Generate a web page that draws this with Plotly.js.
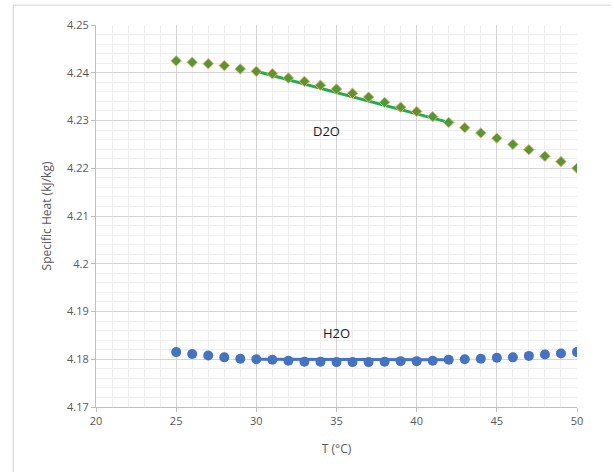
<!DOCTYPE html>
<html>
<head>
<meta charset="utf-8">
<script src="https://cdn.plot.ly/plotly-3.0.1.min.js"></script>
<style>
html,body{margin:0;padding:0;background:#fff;}
#chart{width:614px;height:472px;}
</style>
</head>
<body>
<div id="chart"></div>
<script>
// Temperature (°C)
const temps = [25,26,27,28,29,30,31,32,33,34,35,36,37,38,39,40,41,42,43,44,45,46,47,48,49,50];
// Specific heat of D2O (kJ/kg)
const d2o = [4.2425,4.2422,4.2419,4.2415,4.2408,4.2403,4.2398,4.2389,4.2382,4.2374,4.2366,4.2357,4.2349,4.2338,4.2328,4.2319,4.2308,4.2296,4.2285,4.2274,4.2263,4.2250,4.2239,4.2225,4.2214,4.2200];
// Specific heat of H2O (kJ/kg)
const h2o = [4.1815,4.1811,4.1808,4.1804,4.1801,4.1800,4.1799,4.1797,4.1795,4.1795,4.1794,4.1794,4.1794,4.1795,4.1796,4.1796,4.1797,4.1799,4.1800,4.1801,4.1803,4.1804,4.1807,4.1810,4.1812,4.1815];
// Trend line segments (30–42 °C)
const trendX = [30,42];
const d2oTrend = [4.2403,4.2296];
const h2oTrend = [4.1800,4.1799];
// Labels
const labels = ["D2O","H2O"];
const labelX = [34.4,35.0];
const labelY = [4.2279,4.1854];

const traces = [
  {x: trendX, y: d2oTrend, mode:'lines', line:{color:'#1db04a', width:3}, hoverinfo:'skip'},
  {x: trendX, y: h2oTrend, mode:'lines', line:{color:'#4472c4', width:3}, hoverinfo:'skip'},
  {x: temps, y: d2o, mode:'markers', name:'D2O',
   marker:{symbol:'diamond', size:8, color:'#4f9a34', line:{color:'#f2a868', width:1}}},
  {x: temps, y: h2o, mode:'markers', name:'H2O',
   marker:{symbol:'circle', size:10, color:'#4472c4', line:{width:0}}}
];

const layout = {
  width:614, height:472,
  margin:{l:96, r:37, t:25, b:65},
  paper_bgcolor:'#fff', plot_bgcolor:'#fff',
  showlegend:false,
  font:{family:'Open Sans, Liberation Sans, sans-serif', color:'#595959', size:11},
  xaxis:{
    range:[20,50], dtick:5, tick0:20,
    showgrid:true, gridcolor:'#d4d4d4', gridwidth:1,
    minor:{dtick:1, showgrid:true, gridcolor:'#eeeeee', gridwidth:1},
    showline:true, linecolor:'#bfbfbf', linewidth:1,
    ticks:'outside', ticklen:4, tickcolor:'#bfbfbf',
    zeroline:false,
    tickfont:{size:11, color:'#595959'},
    title:{text:'T (°C)', font:{size:12, color:'#595959'}, standoff:17}
  },
  yaxis:{
    range:[4.17,4.25], dtick:0.01, tick0:4.17,
    showgrid:true, gridcolor:'#d4d4d4', gridwidth:1,
    minor:{dtick:0.002, showgrid:true, gridcolor:'#eeeeee', gridwidth:1},
    showline:true, linecolor:'#bfbfbf', linewidth:1,
    ticks:'outside', ticklen:4, tickcolor:'#bfbfbf',
    zeroline:false,
    tickfont:{size:11, color:'#595959'},
    title:{text:'Specific Heat (kJ/kg)', font:{size:12, color:'#595959'}, standoff:12}
  },
  annotations: labels.map((t,i)=>({x:labelX[i], y:labelY[i], xref:'x', yref:'y', text:t, showarrow:false,
    font:{size:13, color:'#1a1a1a', family:'Open Sans, Liberation Sans, sans-serif'}})),
  shapes:[
    {type:'line', xref:'paper', yref:'paper', x0:-0.172, x1:-0.172, y0:1.052, y1:-0.2, line:{color:'#d0d0d0', width:1}, layer:'below'},
    {type:'line', xref:'paper', yref:'paper', x0:-0.172, x1:1.07, y0:1.052, y1:1.052, line:{color:'#d0d0d0', width:1}, layer:'below'}
  ]
};

Plotly.newPlot('chart', traces, layout, {displayModeBar:false, staticPlot:true});
</script>
</body>
</html>
